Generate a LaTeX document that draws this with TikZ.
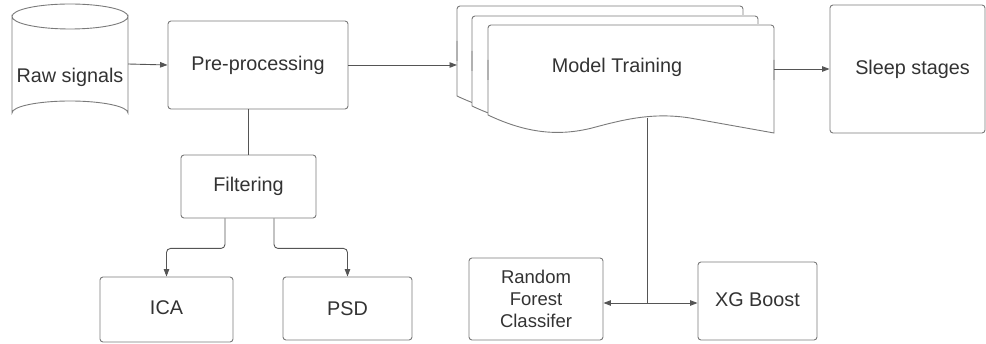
\documentclass[tikz,border=0pt]{standalone}
\usepackage{fontspec}
\setmainfont{Liberation Sans}
\usetikzlibrary{arrows.meta,calc}
\definecolor{edgegray}{HTML}{7A7A7A}
\definecolor{linegray}{HTML}{555555}
\definecolor{inkgray}{HTML}{333333}
\begin{document}
\begin{tikzpicture}[x=1pt,y=-1pt,
  box/.style={draw=edgegray,line width=0.9pt,rounded corners=3pt,fill=white,
    inner sep=0pt,text=inkgray,font=\fontsize{19.8}{22}\selectfont,align=center},
  conn/.style={draw=linegray,line width=0.9pt},
  tip/.style={-{Triangle[length=7.5pt,width=5.5pt]}},
  lbl/.style={text=inkgray,font=\fontsize{19.8}{22}\selectfont,inner sep=0pt}]
\useasboundingbox (0,0) rectangle (986,344);

% database cylinder
\draw[edgegray,line width=0.9pt,fill=white]
  (12,16.5) -- (12,113) arc[start angle=180,end angle=360,x radius=58,y radius=12]
  -- (128,16.5) arc[start angle=0,end angle=180,x radius=58,y radius=12.5] -- cycle;
\draw[edgegray,line width=0.9pt]
  (12,16.5) arc[start angle=180,end angle=360,x radius=58,y radius=12.5];
\node[minimum width=116pt,minimum height=60pt,inner sep=0pt] (raw) at (70,64) {};
\node[lbl] (rawtxt) at (70,77) {Raw signals};

% boxes
\node[box,minimum width=180pt,minimum height=88pt] (pre) at (258,65) {Pre-processing};
\node[box,minimum width=135pt,minimum height=63pt] (filt) at (248.5,186.5) {Filtering};
\node[box,minimum width=133pt,minimum height=65pt] (ica) at (166.5,309.5) {\raisebox{3pt}{ICA}};
\node[box,minimum width=129pt,minimum height=63pt] (psd) at (347.5,308.5) {PSD};
\node[box,minimum width=134pt,minimum height=82pt,font=\fontsize{18.5}{22}\selectfont] (rf) at (536,299) {Random\\Forest\\Classifer};
\node[box,minimum width=119pt,minimum height=78pt] (xg) at (757.5,301) {\raisebox{2pt}{XG Boost}};
\node[box,minimum width=155pt,minimum height=128pt] (sleep) at (907.5,69) {\hspace*{10pt}Sleep stages};

% stacked documents
\foreach \dx/\dy in {-31/-19,-16/-9,0/0}{
  \begin{scope}[shift={(\dx,\dy)}]
    \draw[edgegray,line width=0.9pt,fill=white]
      (488,60) -- (488,115)
      .. controls (528,134) and (560,136) .. (592,128)
      .. controls (622,120) and (652,112) .. (690,118)
      -- (774,133) -- (774,60);
    \fill[white] (489,24.5) rectangle (773,75);
    \draw[edgegray,line width=0.9pt,rounded corners=3pt]
      (488,80) -- (488,25) -- (774,25) -- (774,80);
  \end{scope}
}
\node[lbl] (mt) at (617,67) {Model Training};
\coordinate (mtin) at (457,65);
\coordinate (mtout) at (774,69);
\coordinate (mtbase) at (647,118.5);
\coordinate (split) at (647,303);

% connectors
\draw[conn,tip] (raw.east) -- (pre.west);
\draw[conn,tip] (pre.east) -- (mtin);
\draw[conn,tip] (mtout) -- (sleep.west);
\draw[conn] (filt.north |- pre.south) -- (filt.north);
\draw[conn,tip,rounded corners=4pt]
  ($(filt.south)+(-23.5,0)$) -- ++(0,30) -| (ica.north);
\draw[conn,tip,rounded corners=4pt]
  ($(filt.south)+(25.5,0)$) -- ++(0,30) -| (psd.north);
\draw[conn] (mtbase) -- (split);
\draw[conn,{Triangle[length=7.5pt,width=5.5pt]}-{Triangle[length=7.5pt,width=5.5pt]}]
  (rf.east |- split) -- (xg.west |- split);
\end{tikzpicture}
\end{document}
